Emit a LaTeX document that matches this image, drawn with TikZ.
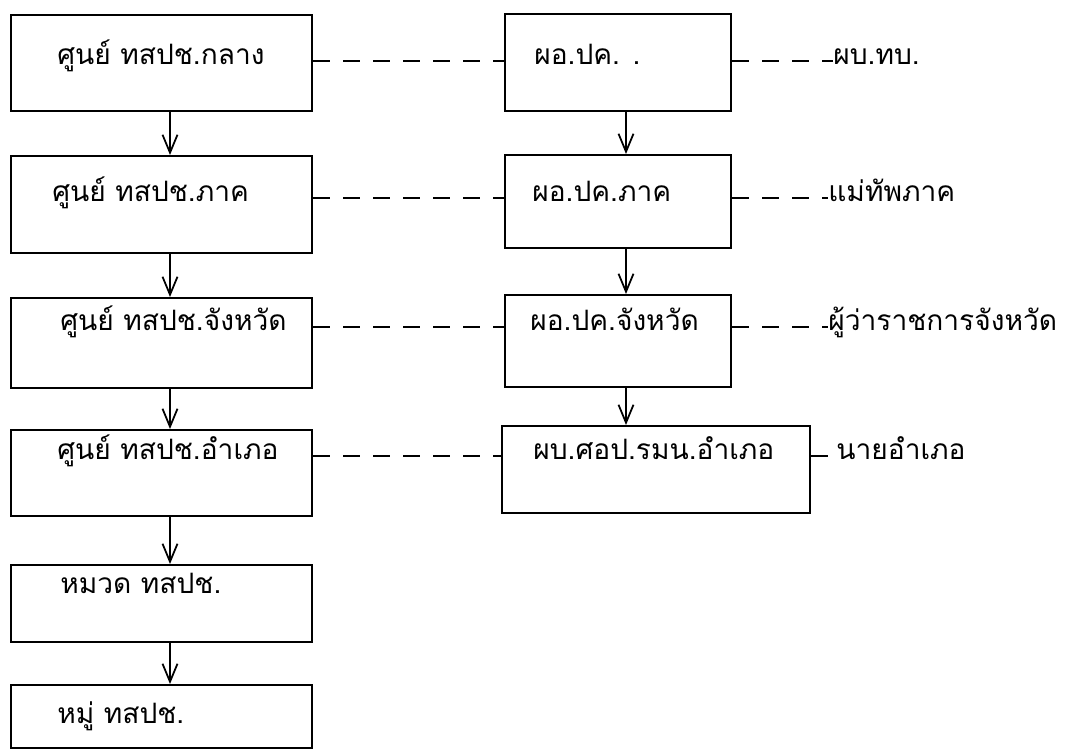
\documentclass[tikz,border=0pt]{standalone}
\usepackage{fontspec}
\newfontfamily\thaifont[Script=Thai]{Loma}
\usetikzlibrary{arrows.meta}

\begin{document}
\begin{tikzpicture}[x=0.2mm,y=-0.2mm,
    box/.style={rectangle,draw,line width=1.3pt,inner sep=0pt,anchor=north west},
    txt/.style={anchor=mid west,inner sep=0pt,font=\thaifont\fontsize{16}{19}\selectfont},
    link/.style={line width=1pt,dash pattern=on 3.4mm off 2.6mm},
    arr/.style={line width=1pt,-{Straight Barb[length=3.6mm,width=3mm]}}]
  \useasboundingbox (0,0) rectangle (1076,750);

  % left column
  \node[box,minimum width=60.2mm,minimum height=19.2mm] (c1) at (10,14) {};
  \node[box,minimum width=60.2mm,minimum height=19.4mm] (c2) at (10,155) {};
  \node[box,minimum width=60.2mm,minimum height=18mm]   (c3) at (10,297) {};
  \node[box,minimum width=60.2mm,minimum height=17.2mm] (c4) at (10,429) {};
  \node[box,minimum width=60.2mm,minimum height=15.4mm] (c5) at (10,564) {};
  \node[box,minimum width=60.2mm,minimum height=12.6mm] (c6) at (10,684) {};

  \node[txt] (c1t) at (57,61)  {ศูนย์ ทสปช.กลาง};
  \node[txt] (c2t) at (52,198) {ศูนย์ ทสปช.ภาค};
  \node[txt] (c3t) at (60,327) {ศูนย์ ทสปช.จังหวัด};
  \node[txt] (c4t) at (57,456) {ศูนย์ ทสปช.อำเภอ};
  \node[txt] (c5t) at (60,590) {หมวด ทสปช.};
  \node[txt] (c6t) at (57,720) {หมู่ ทสปช.};

  % right column
  \node[box,minimum width=45.2mm,minimum height=19.4mm] (p1) at (504,13) {};
  \node[box,minimum width=45.2mm,minimum height=18.6mm] (p2) at (504,154) {};
  \node[box,minimum width=45.2mm,minimum height=18.4mm] (p3) at (504,294) {};
  \node[box,minimum width=61.6mm,minimum height=17.4mm] (p4) at (501,425) {};

  \node[txt] (p1t) at (534,61)  {ผอ.ปค. .};
  \node[txt] (p2t) at (532,198) {ผอ.ปค.ภาค};
  \node[txt] (p3t) at (530,327) {ผอ.ปค.จังหวัด};
  \node[txt] (p4t) at (533,456) {ผบ.ศอป.รมน.อำเภอ};

  % officials
  \node[txt] (l1) at (833,61)  {ผบ.ทบ.};
  \node[txt] (l2) at (828,198) {แม่ทัพภาค};
  \node[txt] (l3) at (828,327) {ผู้ว่าราชการจังหวัด};
  \node[txt] (l4) at (836,456) {นายอำเภอ};

  \coordinate (la) at (170,0);
  \coordinate (ra) at (626,0);

  \path[arr]
    (c1.south -| la) edge (c2.north -| la)
    (c2.south -| la) edge (c3.north -| la)
    (c3.south -| la) edge (c4.north -| la)
    (c4.south -| la) edge (c5.north -| la)
    (c5.south -| la) edge (c6.north -| la)
    (p1.south -| ra) edge (p2.north -| ra)
    (p2.south -| ra) edge (p3.north -| ra)
    (p3.south -| ra) edge (p4.north -| ra);

  \path[link]
    (c1.east |- c1t.mid) edge (p1.west |- c1t.mid)
    (c2.east |- c2t.mid) edge (p2.west |- c2t.mid)
    (c3.east |- c3t.mid) edge (p3.west |- c3t.mid)
    (c4.east |- c4t.mid) edge (p4.west |- c4t.mid)
    (p1.east |- l1.mid) edge (l1.mid west)
    (p2.east |- l2.mid) edge (l2.mid west)
    (p3.east |- l3.mid) edge (l3.mid west)
    (p4.east |- l4.mid) edge (l4.mid west);
\end{tikzpicture}
\end{document}
